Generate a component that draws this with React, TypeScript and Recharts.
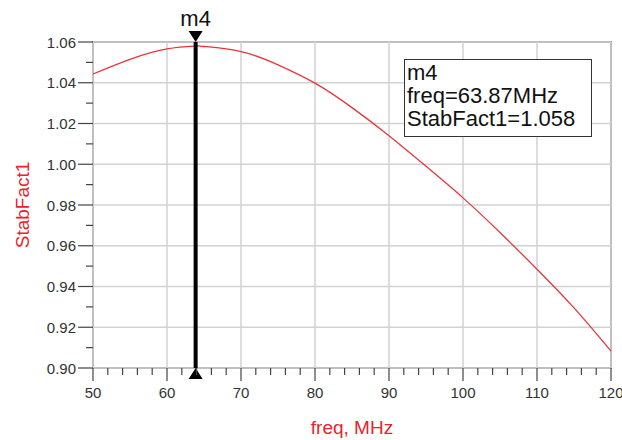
import {
  ComposedChart,
  Line,
  XAxis,
  YAxis,
  ReferenceLine,
  ReferenceArea,
} from "recharts";

// freq sweep (MHz) and stability factor
const freqs = [50, 55, 60, 63.87, 65, 70, 75, 80, 85, 90, 95, 100, 105, 110, 115, 120];
const stabFact = [
  1.0443, 1.0515, 1.0566, 1.058, 1.0578, 1.0553, 1.0488, 1.0398, 1.0278, 1.014,
  0.999, 0.9835, 0.9665, 0.9485, 0.9295, 0.9083,
];

// axis ticks (minor + major)
const xTicks = [
  50, 52, 54, 56, 58, 60, 62, 64, 66, 68, 70, 72, 74, 76, 78, 80, 82, 84, 86, 88,
  90, 92, 94, 96, 98, 100, 102, 104, 106, 108, 110, 112, 114, 116, 118, 120,
];
const xMajor = [50, 60, 70, 80, 90, 100, 110, 120];
const yTicks = [
  0.9, 0.91, 0.92, 0.93, 0.94, 0.95, 0.96, 0.97, 0.98, 0.99, 1.0, 1.01, 1.02,
  1.03, 1.04, 1.05, 1.06,
];
const yMajor = [0.9, 0.92, 0.94, 0.96, 0.98, 1.0, 1.02, 1.04, 1.06];

// marker m4
const markerName = "m4";
const markerFreq = 63.87;
const markerValue = 1.058;

const data = freqs.map((f, i) => ({ freq: f, stab: stabFact[i] }));

const FONT = "'Liberation Sans', Arial, sans-serif";
const RED = "#e8232b";

const XTick = (props: any) => {
  const { x, y, payload } = props;
  const major = payload.value % 10 === 0;
  return (
    <g>
      <line x1={x} x2={x} y1={y} y2={y + (major ? 13 : 7)} stroke="#444" strokeWidth={1.2} />
      {major && (
        <text
          x={x}
          y={y + 24}
          textAnchor="middle"
          dominantBaseline="central"
          fontSize={15}
          fontFamily={FONT}
          fill="#333"
        >
          {payload.value}
        </text>
      )}
    </g>
  );
};

const YTick = (props: any) => {
  const { x, y, payload } = props;
  const major = Math.round(payload.value * 100) % 2 === 0;
  return (
    <g>
      <line x1={x - (major ? 15 : 7)} x2={x} y1={y} y2={y} stroke="#444" strokeWidth={1.2} />
      {major && (
        <text
          x={x - 17}
          y={y}
          textAnchor="end"
          dominantBaseline="central"
          fontSize={15}
          fontFamily={FONT}
          fill="#333"
        >
          {payload.value.toFixed(2)}
        </text>
      )}
    </g>
  );
};

const MarkerLabel = (props: any) => {
  const { viewBox } = props;
  const x = viewBox.x;
  const top = viewBox.y;
  const bottom = viewBox.y + viewBox.height;
  return (
    <g>
      <text
        x={x}
        y={top - 16}
        textAnchor="middle"
        fontSize={22}
        fontFamily={FONT}
        fill="#111"
      >
        {markerName}
      </text>
      <polygon points={`${x - 7},${top - 11} ${x + 7},${top - 11} ${x},${top}`} fill="#000" />
      <polygon points={`${x - 7},${bottom + 11} ${x + 7},${bottom + 11} ${x},${bottom}`} fill="#000" />
    </g>
  );
};

export default function App() {
  return (
    <div style={{ position: "relative", width: 622, height: 440, background: "#fff" }}>
      <style>{`body{margin:0}`}</style>
      <ComposedChart
        width={622}
        height={440}
        data={data}
        margin={{ top: 42, right: 11, left: 0, bottom: 0 }}
      >
        <XAxis
          dataKey="freq"
          type="number"
          domain={[50, 120]}
          ticks={xTicks}
          interval={0}
          tickSize={0}
          tickMargin={0}
          height={72}
          axisLine={false}
          tick={<XTick />}
          label={{
            value: "freq, MHz",
            position: "insideBottom",
            offset: 6,
            fill: RED,
            fontSize: 19,
            fontFamily: FONT,
          }}
        />
        <YAxis
          type="number"
          domain={[0.9, 1.06]}
          ticks={yTicks}
          interval={0}
          tickSize={0}
          tickMargin={0}
          width={93}
          axisLine={false}
          allowDataOverflow
          tick={<YTick />}
          label={(p: any) => (
            <text
              x={22}
              y={p.viewBox.y + p.viewBox.height / 2}
              transform={`rotate(-90, 22, ${p.viewBox.y + p.viewBox.height / 2})`}
              textAnchor="middle"
              dominantBaseline="central"
              fontSize={19}
              fontFamily={FONT}
              fill={RED}
            >
              StabFact1
            </text>
          )}
        />

        {/* grid on the major ticks */}
        {xMajor.map((v) => (
          <ReferenceLine key={`gx${v}`} x={v} stroke="#d2d2d2" strokeWidth={1.5} />
        ))}
        {yMajor.map((v) => (
          <ReferenceLine key={`gy${v}`} y={v} stroke="#d2d2d2" strokeWidth={1.5} />
        ))}

        {/* plot frame */}
        <ReferenceArea
          x1={50}
          x2={120}
          y1={0.9}
          y2={1.06}
          fill="none"
          fillOpacity={0}
          stroke="#8a8a8a"
          strokeWidth={2}
        />

        <Line
          type="natural"
          dataKey="stab"
          stroke="#e8353c"
          strokeWidth={1.3}
          dot={false}
          isAnimationActive={false}
        />

        <ReferenceLine
          x={markerFreq}
          stroke="#000"
          strokeWidth={4}
          ifOverflow="visible"
          label={<MarkerLabel />}
        />
      </ComposedChart>

      <div
        style={{
          position: "absolute",
          left: 404,
          top: 59,
          width: 184,
          height: 75,
          border: "1px solid #333",
          background: "#fff",
          fontFamily: FONT,
          fontSize: 22,
          lineHeight: "23px",
          color: "#111",
          paddingLeft: 2,
          paddingTop: 1,
          boxSizing: "content-box",
        }}
      >
        <div>{markerName}</div>
        <div>freq={markerFreq}MHz</div>
        <div>StabFact1={markerValue.toFixed(3)}</div>
      </div>
    </div>
  );
}
